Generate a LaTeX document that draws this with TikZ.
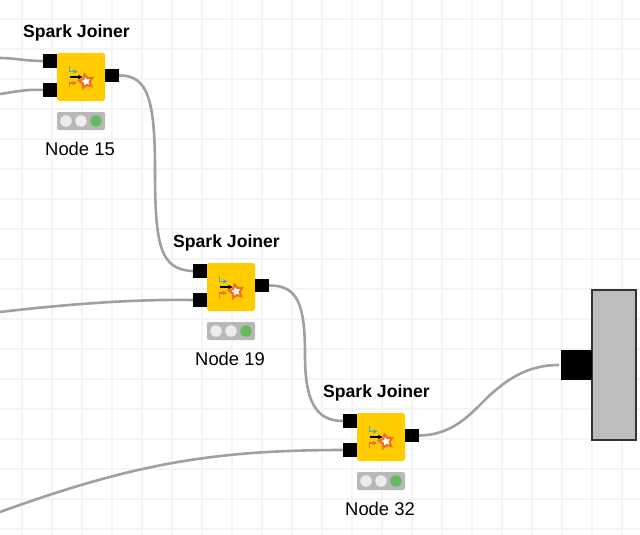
\documentclass[tikz,border=0pt]{standalone}
\usepackage{fontspec}
\setmainfont{Liberation Sans}
\usetikzlibrary{shapes.geometric,calc,arrows.meta}
\definecolor{gridc}{HTML}{F4F4F4}
\definecolor{wirec}{HTML}{A0A0A0}
\definecolor{bodyc}{HTML}{FFCC00}
\definecolor{lightbar}{HTML}{B8B8B8}
\definecolor{lampoff}{HTML}{ECECEC}
\definecolor{lampon}{HTML}{66BB5E}
\definecolor{tealic}{HTML}{4FA8B8}
\definecolor{orangeic}{HTML}{F0702A}
\definecolor{boxc}{HTML}{BDBDBD}
\definecolor{boxline}{HTML}{333333}
\tikzset{
  x=1pt,y=-1pt,
  gridline/.style={draw=gridc,line width=1.4pt},
  wire/.style={draw=wirec,line width=2.6pt},
  nodebody/.style={fill=bodyc,rounded corners=2.5pt,minimum width=48pt,minimum height=48pt,inner sep=0pt,outer sep=0pt},
  portbox/.style={fill=black,minimum width=14pt,minimum height=13.5pt,inner sep=0pt,outer sep=0pt},
  statusbar/.style={fill=lightbar,rounded corners=2pt,minimum width=48pt,minimum height=18pt,inner sep=0pt,outer sep=0pt},
  lamp/.style={circle,fill=#1,minimum size=11.5pt,inner sep=0pt,outer sep=0pt},
  titletext/.style={font=\fontsize{17.6}{19}\selectfont\bfseries,inner sep=0pt},
  nodetext/.style={font=\fontsize{18.4}{20}\selectfont,inner sep=0pt},
  iconline/.style={line width=1.3pt,-{Stealth[length=4.5pt,width=4.5pt]}},
  iconstar/.style={star,star points=5,star point ratio=1.9,draw=orangeic,fill=white,line width=2.2pt,minimum size=14pt,inner sep=0pt,rotate=12},
  bigbox/.style={fill=boxc,draw=boxline,line width=1.5pt,minimum width=44pt,minimum height=150pt,inner sep=0pt,outer sep=0pt},
  bigport/.style={fill=black,minimum width=31pt,minimum height=30pt,inner sep=0pt,outer sep=0pt},
}
% #1 name, #2 x of body centre, #3 y of body centre, #4 label
\newcommand{\sparkjoiner}[4]{%
  \node[nodebody] (#1) at (#2,#3) {};
  \node[portbox] (#1a) at ($(#2,#3)+(-31,-16)$) {};
  \node[portbox] (#1b) at ($(#2,#3)+(-31,13)$) {};
  \node[portbox] (#1o) at ($(#2,#3)+(31,-1.5)$) {};
  \node[statusbar] (#1s) at ($(#2,#3)+(0,44)$) {};
  \node[lamp=lampoff] (#1l1) at ($(#2,#3)+(-15,44)$) {};
  \node[lamp=lampoff] (#1l2) at ($(#2,#3)+(0,44)$) {};
  \node[lamp=lampon] (#1l3) at ($(#2,#3)+(15,44)$) {};
  \node[titletext] (#1t) at ($(#2,#3)+(-4.5,-44)$) {Spark Joiner};
  \node[nodetext] (#1n) at ($(#2,#3)+(-1,71.5)$) {#4};
  \draw[iconline,draw=tealic] ($(#2,#3)+(-11.5,-11)$) -- ++(0,5.5) -- ++(8,0);
  \draw[iconline,draw=orangeic] ($(#2,#3)+(-11.5,10.5)$) -- ++(0,-4.5) -- ++(7.5,0);
  \node[iconstar] (#1i) at ($(#2,#3)+(5,4.5)$) {};
  \draw[iconline,draw=black,line width=1.6pt] ($(#2,#3)+(-11.5,0)$) -- ++(13,0);
}
\begin{document}
\begin{tikzpicture}
\useasboundingbox (0,0) rectangle (640,535);
\fill[white] (0,0) rectangle (640,535);
\foreach \gx in {22,52,...,622} \draw[gridline] (\gx,0) -- (\gx,535);
\foreach \gy in {19,49,...,529} \draw[gridline] (0,\gy) -- (640,\gy);

\sparkjoiner{na}{81}{77}{Node 15}
\sparkjoiner{nb}{231}{287}{Node 19}
\sparkjoiner{nc}{381}{437}{Node 32}
\node[bigbox] (sink) at (614,365) {};
\node[bigport] (sinkp) at (576.5,365) {};

\coordinate (fa) at (0,58);
\coordinate (fb) at (0,94);
\coordinate (fc) at (0,312);
\coordinate (fd) at (0,512);
\coordinate (ma) at (155,170);
\coordinate (mb) at (305,355);
\coordinate (mc) at (490,395);

\draw[wire] (fa) .. controls (14,58) and (26,61) .. (naa.west);
\draw[wire] (fb) .. controls (14,92) and (26,89) .. (nab.west);
\draw[wire] (fc) .. controls (60,305) and (130,299) .. (nbb.west);
\draw[wire] (fd) .. controls (130,465) and (210,450) .. (ncb.west);
\draw[wire] (nao.east) .. controls (148,75) and (155,100) .. (ma) .. controls (155,245) and (160,270) .. (nba.west);
\draw[wire] (nbo.east) .. controls (298,285) and (305,305) .. (mb) .. controls (305,400) and (315,421) .. (nca.west);
\draw[wire] (nco.east) .. controls (455,435) and (472,412) .. (mc) .. controls (510,377) and (530,365) .. ($(sinkp.west)+(-2,0)$);
\end{tikzpicture}
\end{document}
